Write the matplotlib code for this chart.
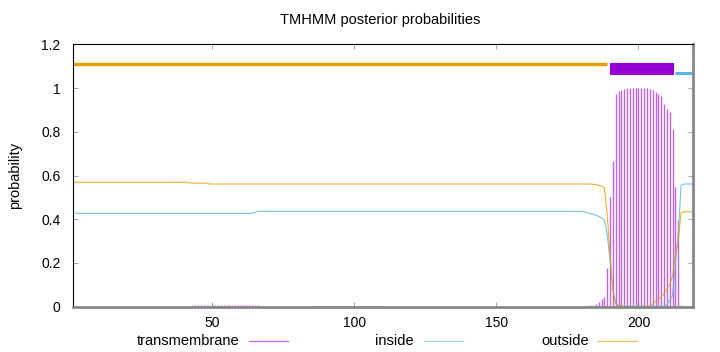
import numpy as np
import matplotlib
matplotlib.use("Agg")
import matplotlib.pyplot as plt
from matplotlib.lines import Line2D
from matplotlib.patches import Rectangle

plt.rcParams['font.family'] = ['Liberation Sans', 'DejaVu Sans']

# ---------------- data ----------------
n_res = 219
residues = np.arange(1, n_res + 1)

# transmembrane posterior probability (impulses)
tm_prob = ([0.0] * 42 + [0.006] * 24 + [0.0] * 18 + [0.004] * 28 + [0.0] * 68 +
           [0.003, 0.004, 0.006, 0.008, 0.012, 0.02, 0.035, 0.045, 0.175, 0.50,
            0.665, 0.975, 0.987, 0.993, 0.997, 0.999, 0.999, 0.999, 0.999, 0.999,
            0.999, 0.999, 0.998, 0.996, 0.99, 0.983, 0.974, 0.962, 0.925, 0.906,
            0.889, 0.814, 0.547, 0.396, 0.01, 0.005, 0.002, 0.001, 0.0])

# outside posterior probability
outside_prob = ([0.569] * 41 + [0.567] + [0.565] * 6 + [0.561] * 135 +
                [0.560, 0.558, 0.555, 0.551, 0.546, 0.42, 0.24, 0.08, 0.015, 0.006, 0.003] +
                [0.001] * 9 +
                [0.003, 0.012, 0.025, 0.035, 0.045, 0.06, 0.08, 0.10, 0.14, 0.24, 0.30, 0.43] +
                [0.434] * 4)

# inside posterior probability
inside_prob = ([0.427] * 64 + [0.431] + [0.436] * 115 +
               [0.434, 0.429, 0.425, 0.423, 0.419, 0.414, 0.406, 0.396, 0.33, 0.21,
                0.07, 0.012, 0.006] +
               [0.002] * 16 +
               [0.01, 0.03, 0.05, 0.2, 0.33, 0.555] +
               [0.561] * 4)

# predicted topology segments (start, end)
outside_segments = [(1, 189)]
tm_segments = [(190, 212)]
inside_segments = [(213, 219)]

legend_labels = ["transmembrane", "inside", "outside"]
y_ticks = [0, 0.2, 0.4, 0.6, 0.8, 1.0, 1.2]
y_tick_labels = ["0", "0.2", "0.4", "0.6", "0.8", "1", "1.2"]
x_ticks = [50, 100, 150, 200]

# ---------------- styles ----------------
c_tm = "#9400D3"
c_in = "#56B4E9"
c_out = "#E69F00"

fig = plt.figure(figsize=(7.2, 3.52), dpi=100)
ax = fig.add_axes([73 / 720, 1 - 306.7 / 352, 620 / 720, 262.4 / 352])

ax.vlines(residues, 0, tm_prob, colors=c_tm, lw=1.0, alpha=0.6)
ax.plot(residues, inside_prob, color=c_in, lw=0.8, alpha=0.8)
ax.plot(residues, outside_prob, color=c_out, lw=0.8, alpha=0.8)

for s, e in outside_segments:
    ax.plot([s, e], [1.11, 1.11], color=c_out, lw=2.4, solid_capstyle='butt')
for s, e in inside_segments:
    ax.plot([s, e], [1.07, 1.07], color=c_in, lw=2.2, solid_capstyle='butt')
for s, e in tm_segments:
    ax.add_patch(Rectangle((s, 1.065), e - s, 0.05, facecolor=c_tm, edgecolor=c_tm, lw=0.8))

ax.set_xlim(0.95, 219.2)
ax.set_ylim(0, 1.2)
ax.set_yticks(y_ticks)
ax.set_yticklabels(y_tick_labels)
ax.set_xticks(x_ticks)

ax.tick_params(direction='in', length=3.5, width=0.6, color='#999999',
               labelsize=10, top=True, right=True, pad=9, labelcolor='black')
ax.tick_params(axis='x', pad=7)

for side in ['left', 'top']:
    ax.spines[side].set_color('black')
    ax.spines[side].set_linewidth(0.8)
for side in ['bottom', 'right']:
    ax.spines[side].set_color('#888888')
    ax.spines[side].set_linewidth(2.0)

ax.set_ylabel("probability", fontsize=10.5, labelpad=14)
fig.text(380 / 720, 1 - 20 / 352, "TMHMM posterior probabilities", ha='center',
         va='center', fontsize=10.5)

# legend (gnuplot style: label then sample line)
legend_text_right = [239, 414, 589]
legend_line = [(249, 288), (424, 463), (598, 637)]
for lab, tx, (l0, l1), col in zip(legend_labels, legend_text_right, legend_line,
                                  [c_tm, c_in, c_out]):
    fig.text(tx / 720, 1 - 341 / 352, lab, ha='right', va='center', fontsize=10.5)
    fig.add_artist(Line2D([l0 / 720, l1 / 720], [1 - 341 / 352] * 2,
                          transform=fig.transFigure, color=col, lw=0.9, alpha=0.6))

fig.savefig("out.png", dpi=100)
